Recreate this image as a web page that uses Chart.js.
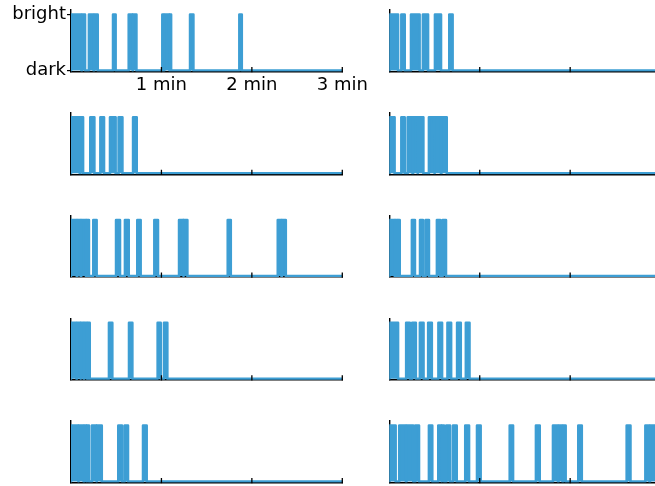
<!DOCTYPE html>
<html>
<head>
<meta charset="utf-8">
<script src="https://cdn.jsdelivr.net/npm/chart.js@4.4.1/dist/chart.umd.min.js"></script>
<style>
  html, body { margin: 0; padding: 0; background: #fff; overflow: hidden; }
  #wrap { position: relative; width: 655px; height: 486px; overflow: hidden; }
  #wrap canvas { position: absolute; }
</style>
</head>
<body>
<div id="wrap"></div>
<script>
// bright periods of each trace, [start, end] in seconds
var trace1 = [[0, 6.9], [7.3, 9.3], [11.9, 15], [15.4, 17.7], [27.9, 29.6], [38.3, 40.7], [41.1, 43.4], [60.6, 61.5], [61.9, 65.1], [65.5, 66.4], [79, 81.2], [111.7, 113.3]];
var trace2 = [[0, 5.8], [8, 10.2], [14.4, 20.1], [22.3, 25.7], [30.3, 34.3], [39.8, 42]];
var trace3 = [[0, 5.8], [6.2, 8], [12.8, 15.5], [19.5, 21.9], [25.9, 29.6], [31.6, 34.1], [41.2, 43.6]];
var trace4 = [[0, 3.5], [8, 10.2], [12.2, 15.4], [15.8, 18.6], [19, 22.6], [26.3, 29.8], [30.2, 34.2], [34.6, 38.1]];
var trace5 = [[0, 3.8], [4.2, 6.4], [6.8, 9.9], [10.3, 11.9], [14.8, 17], [29.9, 32.5], [35.8, 38.3], [44, 46.2], [55.3, 57.7], [71.7, 74.4], [74.8, 77.2], [104, 106], [137.2, 139.6], [140, 142.5]];
var trace6 = [[0, 3.6], [4, 5.5], [5.9, 6.9], [15, 17], [20.4, 22.3], [24.1, 26.3], [31.6, 33.8], [35.4, 37.6]];
var trace7 = [[0, 3.6], [4, 6.2], [6.6, 8.4], [8.8, 10.6], [11, 12.4], [25.2, 27.4], [38.5, 40.7], [57.5, 59.5], [61.7, 63.9]];
var trace8 = [[0, 5.8], [11.2, 13.6], [15.2, 17.6], [20.3, 22.7], [25.8, 28.2], [32.6, 35], [38.6, 41], [45, 47.4], [50.8, 53.2]];
var trace9 = [[0, 4.7], [5.1, 8.4], [8.8, 10.2], [10.6, 11.9], [13.9, 16.8], [17.2, 20.4], [31.4, 33.8], [35.6, 37.8], [47.8, 50.2]];
var trace10 = [[0, 4.2], [6.6, 11], [11.4, 15.9], [17.3, 19.7], [26.3, 28.5], [32.5, 34.5], [34.9, 36.3], [37.8, 40.3], [42.3, 44.7], [50.4, 52.9], [58.2, 60.6], [79.9, 82.1], [97.3, 99.8], [108.6, 111.9], [112.3, 114.9], [115.3, 117], [125.4, 127.7], [157.5, 160], [169.9, 172.6], [173, 178]];

var tickSeconds = [60, 120, 180];
var tickLabels = ['1 min', '2 min', '3 min'];
var levelLabels = ['dark', 'bright'];

var traces = [trace1, trace2, trace3, trace4, trace5, trace6, trace7, trace8, trace9, trace10];

var BLUE = '#3d9ed4';
var colLeft = [71, 389.3];
var plotW = 271.3;
var rowTop = 14.5, rowStep = 102.75, levelH = 56;

Chart.defaults.font.family = "'DejaVu Sans', sans-serif";

function steps(intervals) {
    var pts = [{x: 0, y: 0}];
    intervals.forEach(function(iv) {
        pts.push({x: iv[0], y: 0}, {x: iv[0], y: 1}, {x: iv[1], y: 1}, {x: iv[1], y: 0});
    });
    pts.push({x: 180, y: 0});
    return pts;
}

// ticks point into the plot, so draw them by hand
var innerTicks = {
    id: 'innerTicks',
    afterDraw: function(chart) {
        var ctx = chart.ctx, xs = chart.scales.x, area = chart.chartArea;
        ctx.save();
        ctx.strokeStyle = '#000';
        ctx.lineWidth = 1.3;
        tickSeconds.forEach(function(s) {
            var px = xs.getPixelForValue(s);
            ctx.beginPath();
            ctx.moveTo(px, area.bottom + 0.7);
            ctx.lineTo(px, area.bottom - 4.5);
            ctx.stroke();
        });
        ctx.restore();
    }
};

var wrap = document.getElementById('wrap');

traces.forEach(function(tr, i) {
    var row = Math.floor(i / 2), col = i % 2;
    var first = i === 0;
    var T = rowTop + row * rowStep;
    var plotL = colLeft[col], plotR = plotL + plotW;
    var areaTop = T - 4.5, areaBottom = T + levelH + 1;
    var yMin = -1 / levelH, yMax = 1 + 4.5 / levelH;

    var cx = col === 0 ? 0 : 380;
    var cy = first ? 0 : Math.round(areaTop) - 8;
    var cw = first ? 378 : (col === 0 ? 346 : 290);
    var ch = first ? 100 : Math.round(areaBottom - cy) + 6;

    var canvas = document.createElement('canvas');
    canvas.width = cw;
    canvas.height = ch;
    canvas.style.left = cx + 'px';
    canvas.style.top = cy + 'px';
    wrap.appendChild(canvas);

    var padding = first
        ? {left: 0, top: areaTop, right: cx + cw - plotR, bottom: 0}
        : {left: plotL - cx, top: areaTop - cy, right: cx + cw - plotR, bottom: cy + ch - areaBottom};

    new Chart(canvas.getContext('2d'), {
        type: 'line',
        data: {
            datasets: [{
                data: steps(tr),
                borderColor: BLUE,
                backgroundColor: BLUE,
                borderWidth: 2.6,
                fill: 'origin',
                pointRadius: 0,
                tension: 0,
                borderJoinStyle: 'round',
                borderCapStyle: 'round'
            }]
        },
        options: {
            responsive: false,
            animation: false,
            events: [],
            layout: {padding: padding},
            plugins: {legend: {display: false}, tooltip: {enabled: false}},
            scales: {
                x: {
                    type: 'linear',
                    min: 0,
                    max: 180,
                    z: 1,
                    afterBuildTicks: function(scale) {
                        scale.ticks = tickSeconds.map(function(v) { return {value: v}; });
                    },
                    afterFit: function(scale) {
                        scale.paddingLeft = 0;
                        scale.paddingRight = 0;
                        if (first) scale.height = ch - areaBottom;
                    },
                    ticks: {
                        display: first,
                        autoSkip: false,
                        maxRotation: 0,
                        padding: 3,
                        color: '#000',
                        font: {size: 18},
                        callback: function(v) { return tickLabels[tickSeconds.indexOf(v)]; }
                    },
                    grid: {drawOnChartArea: false, drawTicks: false},
                    border: {display: true, color: '#000', width: 1.4}
                },
                y: {
                    min: yMin,
                    max: yMax,
                    z: 1,
                    afterBuildTicks: function(scale) {
                        scale.ticks = [{value: 0}, {value: 1}];
                    },
                    afterFit: function(scale) {
                        scale.paddingTop = 0;
                        scale.paddingBottom = 0;
                        if (first) scale.width = plotL;
                    },
                    ticks: {
                        display: first,
                        padding: 1,
                        color: '#000',
                        font: {size: 18},
                        callback: function(v) { return levelLabels[v]; }
                    },
                    grid: {drawOnChartArea: false, drawTicks: first, tickLength: 4, color: '#000', lineWidth: 1.2},
                    border: {display: true, color: '#000', width: 1.4}
                }
            }
        },
        plugins: [innerTicks]
    });
});
</script>
</body>
</html>
